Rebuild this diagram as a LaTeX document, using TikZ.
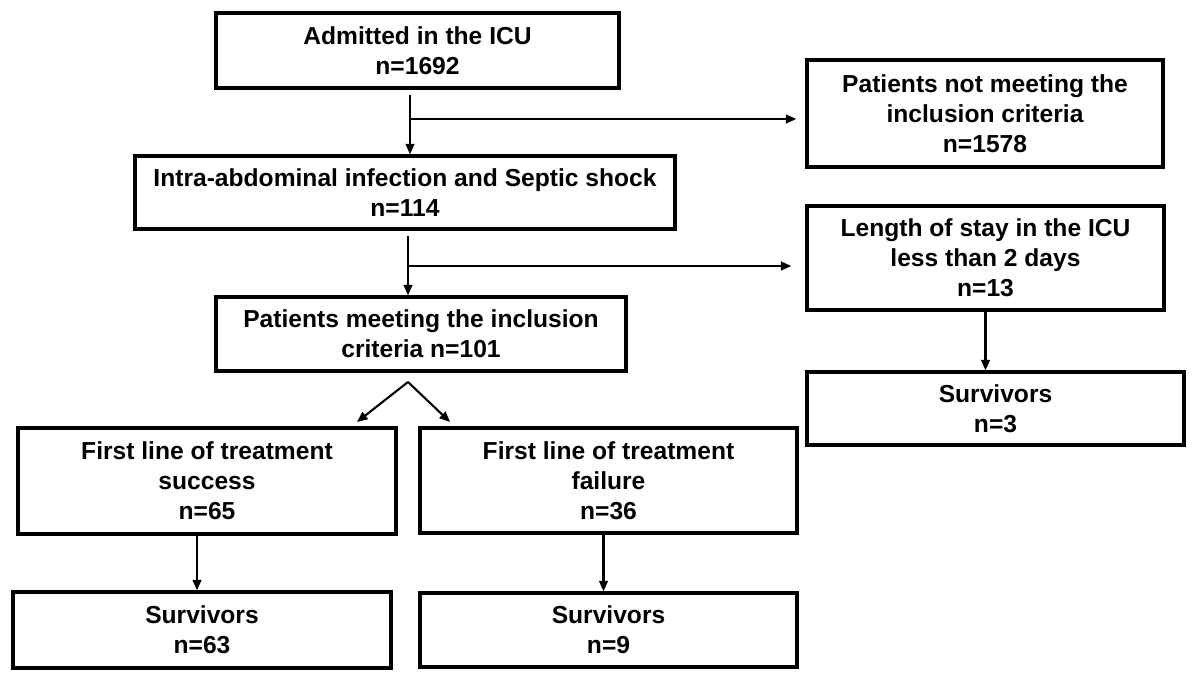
\documentclass[tikz,border=0pt]{standalone}
\usepackage{fontspec}
\setmainfont{Liberation Sans}
\usetikzlibrary{arrows.meta,positioning,calc}

\tikzset{
    box/.style={draw=black, line width=1.9pt, align=center, inner sep=2pt,
        font=\bfseries\fontsize{14}{17}\selectfont},
    arr/.style={line width=1.2pt, -{Triangle[length=6pt,width=5pt]}}
}

\begin{document}
\begin{tikzpicture}

    % page
    \fill[white] (0,0) rectangle (24,-13.66);
    \useasboundingbox (0,0) rectangle (24,-13.66);

    % main column
    \node[box, minimum width=8.06cm, minimum height=1.50cm] (admit) at (8.35,-1.01)
        {Admitted in the ICU\\n=1692};
    \node[box, minimum width=10.80cm, minimum height=1.46cm] (intra) at (8.10,-3.85)
        {Intra-abdominal infection and Septic shock\\n=114};
    \node[box, minimum width=8.20cm, minimum height=1.48cm] (meet) at (8.42,-6.68)
        {Patients meeting the inclusion\\criteria n=101};

    % excluded column
    \node[box, minimum width=7.12cm, minimum height=2.14cm] (notmeet) at (19.70,-2.27)
        {Patients not meeting the\\inclusion criteria\\n=1578};
    \node[box, minimum width=7.14cm, minimum height=2.08cm] (short) at (19.71,-5.16)
        {Length of stay in the ICU\\less than 2 days\\n=13};
    \node[box, minimum width=7.54cm, minimum height=1.46cm] (surv3) at (19.91,-8.17)
        {Survivors\\n=3};

    % treatment lines
    \node[box, minimum width=7.56cm, minimum height=2.12cm] (success) at (4.14,-9.62)
        {First line of treatment\\success\\n=65};
    \node[box, minimum width=7.54cm, minimum height=2.10cm] (failure) at (12.17,-9.61)
        {First line of treatment\\failure\\n=36};
    \node[box, minimum width=7.56cm, minimum height=1.52cm] (surv63) at (4.04,-12.60)
        {Survivors\\n=63};
    \node[box, minimum width=7.54cm, minimum height=1.48cm] (surv9) at (12.17,-12.60)
        {Survivors\\n=9};

    % admitted -> intra-abdominal, branch to excluded
    \coordinate (s1) at (8.20,-1.90);
    \coordinate (b1) at (8.20,-2.38);
    \draw[arr] (s1) -- (s1 |- intra.north);
    \draw[arr, shorten >=0.18cm] (b1) -- (b1 -| notmeet.west);

    % intra-abdominal -> meeting criteria, branch to short stay
    \coordinate (s2) at (8.16,-4.72);
    \coordinate (b2) at (8.16,-5.32);
    \draw[arr] (s2) -- (s2 |- meet.north);
    \draw[arr, shorten >=0.28cm] (b2) -- (b2 -| short.west);
    \draw[arr] (short.south) -- (short.south |- surv3.north);

    % split into success / failure
    \coordinate (apex) at (8.16,-7.64);
    \coordinate (tipL) at (7.14,-8.44);
    \coordinate (tipR) at (9.00,-8.44);
    \draw[arr] (apex) -- (tipL);
    \draw[arr] (apex) -- (tipR);

    % survivors
    \draw[arr] ([xshift=-0.2cm]success.south) -- ([xshift=-0.2cm]success.south |- surv63.north);
    \draw[arr] ([xshift=-0.1cm]failure.south) -- ([xshift=-0.1cm]failure.south |- surv9.north);

\end{tikzpicture}
\end{document}
